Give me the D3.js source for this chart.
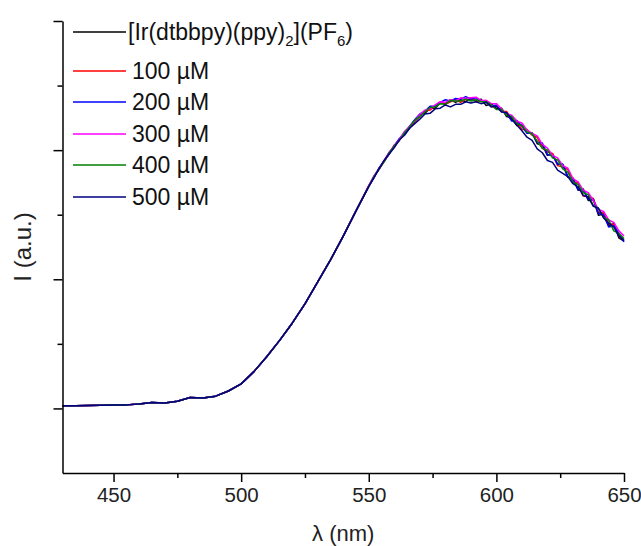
<!DOCTYPE html>
<html>
<head>
<meta charset="utf-8">
<script src="https://cdn.jsdelivr.net/npm/d3@7"></script>
<style>
  body { margin: 0; background: #fff; }
  text { font-family: 'Liberation Sans', Arial, sans-serif; }
</style>
</head>
<body>
<svg id="viz" width="641" height="546"></svg>
<script>
// wavelengths (nm)
const wl = [430, 435, 440, 445, 450, 455, 460, 465, 470, 475, 480, 485, 490, 495, 500, 505, 510, 515, 520, 525, 530, 535, 540, 545,
  550, 552, 554, 556, 558, 560, 562, 564, 566, 568, 570, 572, 574, 576, 578, 580, 582, 584, 586, 588,
  590, 592, 594, 596, 598, 600, 602, 604, 606, 608, 610, 612, 614, 616, 618, 620, 622, 624, 626, 628,
  630, 632, 634, 636, 638, 640, 642, 644, 646, 648, 650];

const smooth = [1.04, 1.04, 1.045, 1.05, 1.055, 1.055, 1.07, 1.09, 1.085, 1.11, 1.17, 1.16, 1.19, 1.27, 1.38, 1.57, 1.80, 2.05, 2.32, 2.62, 2.96, 3.30, 3.67, 4.06];

const ref = smooth.concat([4.44, 4.59, 4.70, 4.83, 4.96, 5.05, 5.17, 5.26, 5.34, 5.46, 5.55, 5.57, 5.65, 5.65, 5.73, 5.72, 5.78, 5.74, 5.78, 5.75,
  5.80, 5.76, 5.79, 5.69, 5.72, 5.64, 5.65, 5.52, 5.50, 5.38, 5.39, 5.27, 5.27, 5.10, 5.08, 4.92, 4.94, 4.78, 4.78, 4.58,
  4.57, 4.38, 4.40, 4.22, 4.23, 3.99, 4.01, 3.83, 3.86, 3.64, 3.59]);

const c100 = smooth.concat([4.45, 4.58, 4.72, 4.82, 4.95, 5.08, 5.15, 5.27, 5.36, 5.44, 5.52, 5.61, 5.62, 5.69, 5.74, 5.71, 5.75, 5.78, 5.74, 5.79,
  5.81, 5.75, 5.76, 5.77, 5.67, 5.68, 5.60, 5.60, 5.47, 5.44, 5.32, 5.32, 5.23, 5.20, 5.03, 4.97, 4.95, 4.76, 4.74, 4.70,
  4.51, 4.49, 4.29, 4.28, 4.25, 4.03, 4.03, 3.86, 3.85, 3.67, 3.61]);

const c200 = smooth.concat([4.44, 4.57, 4.72, 4.83, 4.94, 5.07, 5.18, 5.25, 5.37, 5.47, 5.56, 5.60, 5.68, 5.68, 5.74, 5.78, 5.76, 5.80, 5.79, 5.83,
  5.79, 5.81, 5.76, 5.76, 5.68, 5.70, 5.60, 5.57, 5.45, 5.46, 5.37, 5.26, 5.26, 5.12, 5.11, 4.93, 4.92, 4.78, 4.78, 4.59,
  4.55, 4.39, 4.38, 4.24, 4.24, 4.02, 4.00, 3.81, 3.83, 3.71, 3.58]);

const c300 = smooth.concat([4.45, 4.60, 4.71, 4.84, 4.97, 5.06, 5.17, 5.29, 5.37, 5.45, 5.55, 5.62, 5.64, 5.70, 5.75, 5.74, 5.78, 5.76, 5.81, 5.80,
  5.81, 5.82, 5.77, 5.77, 5.72, 5.72, 5.64, 5.56, 5.54, 5.45, 5.42, 5.31, 5.26, 5.22, 5.09, 5.03, 4.92, 4.88, 4.76, 4.72,
  4.56, 4.51, 4.38, 4.34, 4.22, 4.08, 4.05, 3.92, 3.88, 3.75, 3.67]);

const c400 = smooth.concat([4.44, 4.59, 4.71, 4.82, 4.96, 5.06, 5.15, 5.27, 5.36, 5.46, 5.52, 5.59, 5.66, 5.67, 5.72, 5.71, 5.77, 5.76, 5.76, 5.79,
  5.76, 5.78, 5.75, 5.75, 5.70, 5.63, 5.63, 5.54, 5.52, 5.41, 5.38, 5.28, 5.25, 5.14, 5.03, 5.00, 4.88, 4.85, 4.71, 4.66,
  4.50, 4.47, 4.34, 4.31, 4.14, 4.10, 3.96, 3.92, 3.75, 3.71, 3.63]);

const c500 = smooth.concat([4.44, 4.57, 4.71, 4.84, 4.94, 5.04, 5.16, 5.23, 5.34, 5.41, 5.48, 5.56, 5.57, 5.64, 5.65, 5.70, 5.67, 5.71, 5.71, 5.75,
  5.73, 5.75, 5.72, 5.74, 5.67, 5.68, 5.59, 5.58, 5.48, 5.39, 5.30, 5.20, 5.15, 5.02, 4.96, 4.84, 4.81, 4.69, 4.64, 4.59,
  4.48, 4.43, 4.30, 4.27, 4.13, 4.10, 3.95, 3.87, 3.81, 3.67, 3.60]);

const series = [ref, c100, c200, c300, c400, c500];
const labels = ['ref', '100 µM', '200 µM', '300 µM', '400 µM', '500 µM'];
const colors = ['#000000', '#ff0000', '#0000ff', '#ff00ff', '#008000', '#000080'];

const xMajor = [450, 500, 550, 600, 650];
const xMinor = [475, 525, 575, 625];
const yMajor = [1, 3, 5, 7];
const yMinor = [2, 4, 6];

const svg = d3.select('#viz');

const x = d3.scaleLinear().domain([430, 650]).range([62.5, 624]);
const y = d3.scaleLinear().domain([0, 7]).range([473, 21]);

// curves
const line = d3.line()
  .x((d, i) => x(wl[i]))
  .y((d) => y(d));

svg.append('g')
  .selectAll('path')
  .data(series)
  .join('path')
  .attr('d', line)
  .attr('fill', 'none')
  .attr('stroke', (d, i) => colors[i])
  .attr('stroke-width', 1.5)
  .attr('stroke-linejoin', 'round');

// x axis
const xAxis = svg.append('g').attr('transform', 'translate(0,' + y(0) + ')');
xAxis.call(d3.axisBottom(x).tickValues(xMajor).tickSize(9).tickSizeOuter(0).tickPadding(5));
xAxis.append('g').call(d3.axisBottom(x).tickValues(xMinor).tickSize(5).tickFormat(''))
  .select('.domain').remove();

// y axis
const yAxis = svg.append('g').attr('transform', 'translate(' + x(430) + ',0)');
yAxis.call(d3.axisLeft(y).tickValues(yMajor).tickSize(9).tickSizeOuter(0).tickFormat(''));
yAxis.append('g').call(d3.axisLeft(y).tickValues(yMinor).tickSize(5).tickFormat(''))
  .select('.domain').remove();

svg.selectAll('.domain, .tick line').attr('stroke', '#000').attr('stroke-width', 1.5);
xAxis.selectAll('.tick text')
  .attr('font-size', 20.5)
  .attr('font-family', "'Liberation Sans', Arial, sans-serif")
  .attr('fill', '#222');

// axis titles
svg.append('text')
  .attr('x', (x(430) + x(650)) / 2)
  .attr('y', 541)
  .attr('text-anchor', 'middle')
  .attr('font-size', 22)
  .attr('fill', '#222')
  .text('λ (nm)');

svg.append('text')
  .attr('transform', 'translate(31,' + (y(0) + y(7)) / 2 + ') rotate(-90)')
  .attr('text-anchor', 'middle')
  .attr('font-size', 24)
  .attr('fill', '#222')
  .text('I (a.u.)');

// legend
const legY = [32, 71, 102, 134, 165, 197];
const leg = svg.append('g');
series.forEach(function (s, i) {
  leg.append('line')
    .attr('x1', 73).attr('x2', 126)
    .attr('y1', legY[i]).attr('y2', legY[i])
    .attr('stroke', colors[i])
    .attr('stroke-width', 1.5);
  const t = leg.append('text')
    .attr('x', i === 0 ? 128 : 132)
    .attr('y', legY[i] + 8)
    .attr('font-size', 23)
    .attr('fill', '#111');
  if (i === 0) {
    t.append('tspan').text('[Ir(dtbbpy)(ppy)');
    t.append('tspan').attr('dy', 6).attr('font-size', 15).text('2');
    t.append('tspan').attr('dy', -6).text('](PF');
    t.append('tspan').attr('dy', 6).attr('font-size', 15).text('6');
    t.append('tspan').attr('dy', -6).text(')');
  } else {
    t.text(labels[i]);
  }
});
</script>
</body>
</html>
